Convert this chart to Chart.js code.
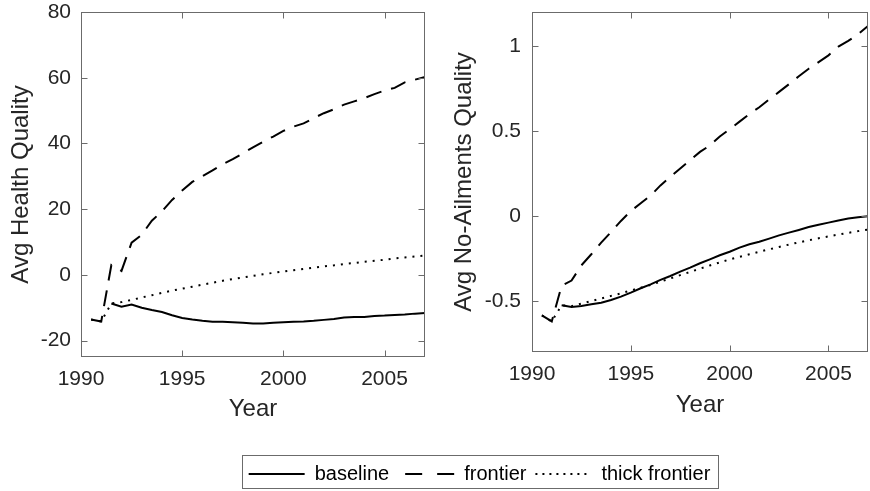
<!DOCTYPE html>
<html>
<head>
<meta charset="utf-8">
<title>Avg Health Quality / Avg No-Ailments Quality</title>
<script src="https://cdn.jsdelivr.net/npm/chart.js@4.4.1/dist/chart.umd.min.js"></script>
<style>
  body { margin: 0; background: #fff; overflow: hidden; }
  #wrap { position: relative; width: 870px; height: 491px; overflow: hidden; }
  canvas { position: absolute; }
</style>
</head>
<body>
<div id="wrap">
  <canvas id="health" width="435" height="440" style="left:0;top:0"></canvas>
  <canvas id="ailments" width="435" height="440" style="left:435px;top:0"></canvas>
  <canvas id="legend" width="870" height="90" style="left:0;top:455px"></canvas>
</div>
<script>
const years = [1990.5, 1991, 1991.5, 1992, 1992.5, 1993, 1993.5, 1994, 1994.5, 1995, 1995.5,
  1996, 1996.5, 1997, 1997.5, 1998, 1998.5, 1999, 1999.5, 2000, 2000.5, 2001, 2001.5,
  2002, 2002.5, 2003, 2003.5, 2004, 2004.5, 2005, 2005.5, 2006, 2006.5, 2007];
const xTicks = [1990, 1995, 2000, 2005];

// Avg Health Quality
const healthBaseline = [null, null, -8.7, -9.7, -9.0, -10.0, -10.7, -11.3, -12.3, -13.1, -13.6,
  -14.0, -14.3, -14.3, -14.4, -14.6, -14.8, -14.8, -14.6, -14.4, -14.3, -14.2, -14.0,
  -13.7, -13.4, -13.0, -12.8, -12.8, -12.5, -12.4, -12.2, -12.1, -11.8, -11.6];
const healthFrontier = [-13.6, -14.2, 3.0, 1.2, 9.8, 12.2, 16.5, 19.3, 22.8, 25.7, 28.3,
  30.0, 31.8, 33.7, 35.2, 37.0, 38.8, 40.5, 42.1, 43.8, 45.1, 46.1, 47.7,
  49.2, 50.4, 51.8, 52.8, 53.8, 55.0, 56.1, 56.9, 58.6, 59.4, 60.2];
const healthThick = [-13.6, -14.2, -8.7, -8.3, -7.6, -6.9, -6.2, -5.5, -4.8, -4.2, -3.6,
  -3.0, -2.4, -1.8, -1.3, -0.8, -0.3, 0.2, 0.6, 1.0, 1.4, 1.8, 2.2,
  2.6, 2.9, 3.3, 3.6, 4.0, 4.3, 4.6, 5.0, 5.3, 5.6, 5.9];
const healthTicks = [-20, 0, 20, 40, 60, 80];

// Avg No-Ailments Quality
const ailBaseline = [null, null, -0.525, -0.535, -0.529, -0.519, -0.51, -0.494, -0.474, -0.451, -0.425,
  -0.402, -0.376, -0.353, -0.327, -0.304, -0.278, -0.255, -0.231, -0.21, -0.186, -0.166, -0.151,
  -0.133, -0.114, -0.098, -0.082, -0.065, -0.051, -0.039, -0.027, -0.015, -0.008, -0.002];
const ailFrontier = [-0.585, -0.62, -0.41, -0.38, -0.29, -0.225, -0.157, -0.094, -0.029, 0.029, 0.075,
  0.12, 0.18, 0.23, 0.28, 0.328, 0.377, 0.415, 0.468, 0.51, 0.555, 0.6, 0.64,
  0.686, 0.73, 0.775, 0.822, 0.866, 0.905, 0.945, 0.996, 1.03, 1.069, 1.118];
const ailThick = [-0.585, -0.62, -0.525, -0.53, -0.515, -0.5, -0.485, -0.47, -0.455, -0.438, -0.422,
  -0.405, -0.386, -0.367, -0.348, -0.329, -0.31, -0.291, -0.273, -0.255, -0.24, -0.225, -0.21,
  -0.196, -0.182, -0.168, -0.155, -0.143, -0.131, -0.12, -0.109, -0.099, -0.089, -0.08];
const ailTicks = [-0.5, 0, 0.5, 1];

const seriesNames = ['baseline', 'frontier', 'thick frontier'];

const TEXT = '#262626';
const AXIS = '#6b6b6b';
const plotDash = [[], [16, 10], [2, 6]];
const legendDash = [[], [17, 15], [2, 5]];
const legendDashOffset = [0, 25, 0];

Chart.defaults.font.family = "'Liberation Sans', Arial, Helvetica, sans-serif";
Chart.defaults.color = TEXT;

// full box round the plot area, ticks pointing inwards on all four sides
const boxAxes = {
  id: 'boxAxes',
  afterDraw(chart) {
    const {ctx, chartArea: a, scales: {x, y}} = chart;
    const L = Math.round(a.left) + 0.5, R = Math.round(a.right) - 0.5;
    const T = Math.round(a.top) + 0.5, B = Math.round(a.bottom) - 0.5;
    const len = 6;
    ctx.save();
    ctx.strokeStyle = AXIS;
    ctx.lineWidth = 1;
    ctx.setLineDash([]);
    ctx.strokeRect(L, T, R - L, B - T);
    ctx.beginPath();
    x.ticks.forEach(t => {
      const px = Math.round(x.getPixelForValue(t.value)) + 0.5;
      ctx.moveTo(px, B); ctx.lineTo(px, B - len);
      ctx.moveTo(px, T); ctx.lineTo(px, T + len);
    });
    y.ticks.forEach(t => {
      const py = Math.round(y.getPixelForValue(t.value)) + 0.5;
      ctx.moveTo(L, py); ctx.lineTo(L + len, py);
      ctx.moveTo(R, py); ctx.lineTo(R - len, py);
    });
    ctx.stroke();
    ctx.restore();
  }
};

// frame round the legend row
const legendFrame = {
  id: 'legendFrame',
  afterDraw(chart) {
    const boxes = chart.legend.legendHitBoxes;
    if (!boxes.length) return;
    const first = boxes[0], last = boxes[boxes.length - 1];
    const left = Math.round(first.left - 7) + 0.5;
    const right = Math.round(last.left + last.width + 8) + 0.5;
    const cy = first.top + first.height / 2;
    const top = Math.round(cy - 19) + 0.5;
    const bottom = Math.round(cy + 14) + 0.5;
    const ctx = chart.ctx;
    ctx.save();
    ctx.strokeStyle = AXIS;
    ctx.lineWidth = 1;
    ctx.setLineDash([]);
    ctx.strokeRect(left, top, right - left, bottom - top);
    ctx.restore();
  }
};

function points(vals) {
  return years.map((yr, i) => ({x: yr, y: vals[i]}));
}

function qualityChart(id, series, yTicks, yMin, yMax, yTitle, f) {
  return new Chart(document.getElementById(id), {
    type: 'line',
    data: {
      datasets: series.map((vals, i) => ({
        label: seriesNames[i],
        data: points(vals),
        borderColor: '#000',
        borderWidth: 2,
        borderDash: plotDash[i],
        pointRadius: 0,
        tension: 0,
        spanGaps: false
      }))
    },
    options: {
      responsive: false,
      animation: false,
      events: [],
      layout: {padding: {left: 0, right: f.padRight, top: f.padTop, bottom: 0}},
      plugins: {legend: {display: false}, tooltip: {enabled: false}},
      scales: {
        x: {
          type: 'linear',
          min: 1990,
          max: 2007,
          grid: {display: false, drawTicks: false},
          border: {display: false},
          afterBuildTicks: s => { s.ticks = xTicks.map(v => ({value: v})); },
          afterFit: s => { s.height = f.xHeight; s.paddingLeft = 0; s.paddingRight = 0; },
          ticks: {padding: 10, maxRotation: 0, autoSkip: false, font: {size: 21}, color: TEXT,
                  callback: v => String(v)},
          title: {display: true, text: 'Year', font: {size: 24}, color: TEXT,
                  padding: {top: 0, bottom: f.xTitlePad}}
        },
        y: {
          min: yMin,
          max: yMax,
          grid: {display: false, drawTicks: false},
          border: {display: false},
          afterBuildTicks: s => { s.ticks = yTicks.map(v => ({value: v})); },
          afterFit: s => { s.width = f.yWidth; s.paddingTop = 0; s.paddingBottom = 0; },
          ticks: {padding: f.yTickPad, font: {size: 21}, color: TEXT, callback: v => String(v)},
          title: {display: true, text: yTitle, font: {size: 24}, color: TEXT,
                  padding: {top: f.yTitlePad, bottom: 0}}
        }
      }
    },
    plugins: [boxAxes]
  });
}

qualityChart('health', [healthBaseline, healthFrontier, healthThick], healthTicks, -25, 80,
  'Avg Health Quality',
  {yWidth: 81, padRight: 10, padTop: 12, xHeight: 83, yTickPad: 10, xTitlePad: 16, yTitlePad: 7});

qualityChart('ailments', [ailBaseline, ailFrontier, ailThick], ailTicks, -0.8, 1.2,
  'Avg No-Ailments Quality',
  {yWidth: 97, padRight: 2, padTop: 12, xHeight: 88, yTickPad: 11, xTitlePad: 20, yTitlePad: 15});

// shared legend under both panels; line samples carry each series' dash pattern
new Chart(document.getElementById('legend'), {
  type: 'line',
  data: {
    datasets: seriesNames.map((name, i) => ({
      label: name,
      data: [],
      borderColor: '#000',
      backgroundColor: 'rgba(0,0,0,0)',
      borderWidth: 2,
      pointStyle: 'line'
    }))
  },
  options: {
    responsive: false,
    animation: false,
    events: [],
    layout: {padding: {left: 89, top: 0}},
    scales: {x: {display: false}, y: {display: false}},
    plugins: {
      tooltip: {enabled: false},
      legend: {
        display: true,
        position: 'top',
        labels: {
          usePointStyle: true, pointStyle: 'line', pointStyleWidth: 56, boxHeight: 20,
          padding: 9, color: '#000', font: {size: 20},
          generateLabels: chart => {
            const items = Chart.defaults.plugins.legend.labels.generateLabels(chart);
            items.forEach((item, i) => {
              item.lineDash = legendDash[i];
              item.lineDashOffset = legendDashOffset[i];
              item.lineWidth = 2;
              item.strokeStyle = '#000';
            });
            return items;
          }
        }
      }
    }
  },
  plugins: [legendFrame]
});
</script>
</body>
</html>
